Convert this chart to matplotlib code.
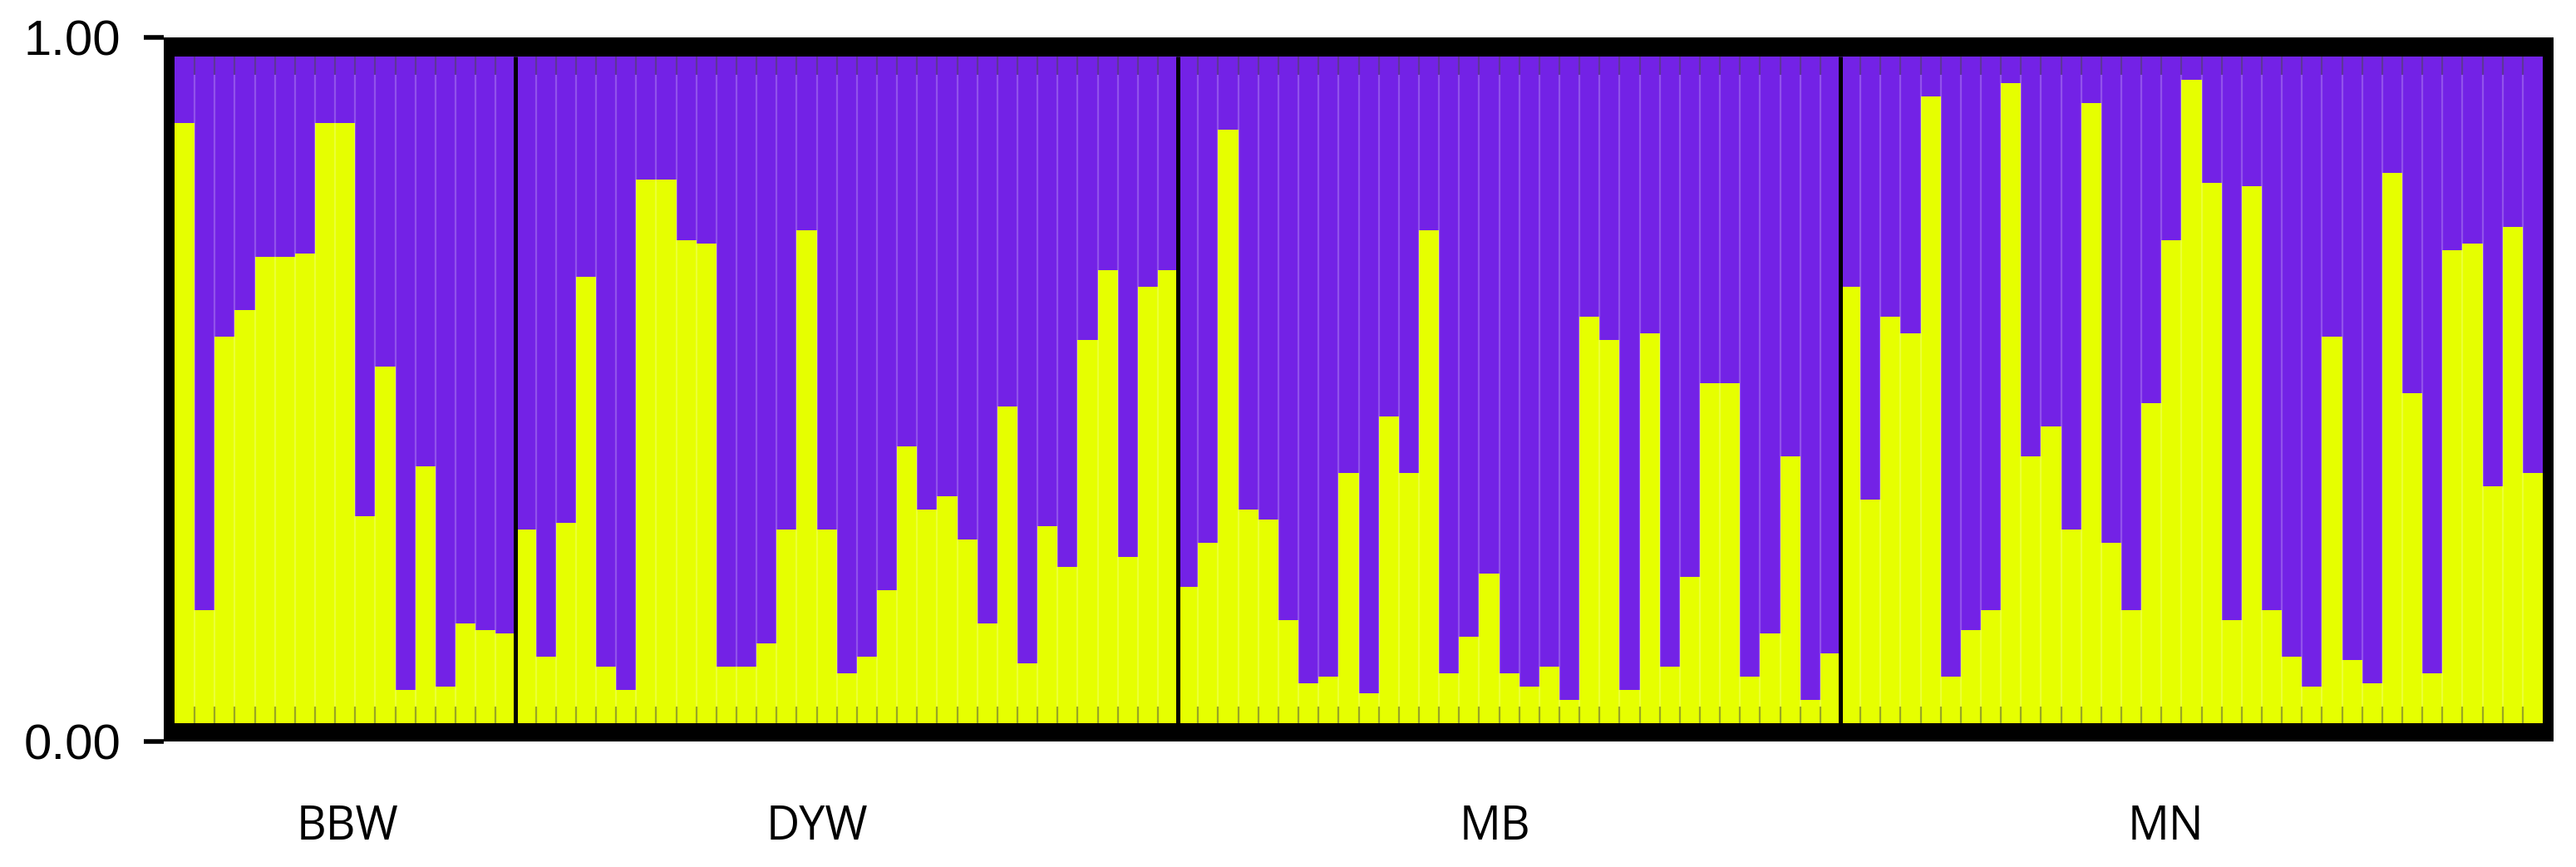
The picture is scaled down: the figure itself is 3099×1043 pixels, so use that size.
import numpy as np
import matplotlib
matplotlib.use('Agg')
import matplotlib.pyplot as plt

# membership coefficient for cluster 1 (yellow), cluster 2 (purple) = 1 - q
groups = ['BBW', 'DYW', 'MB', 'MN']
bbw = [0.90, 0.17, 0.58, 0.62, 0.70, 0.70, 0.705, 0.90, 0.90, 0.31, 0.535, 0.05,
       0.385, 0.055, 0.15, 0.14, 0.135]
dyw = [0.29, 0.10, 0.30, 0.67, 0.085, 0.05, 0.815, 0.815, 0.725, 0.72, 0.085, 0.085,
       0.12, 0.29, 0.74, 0.29, 0.075, 0.10, 0.20, 0.415, 0.32, 0.34, 0.275, 0.15,
       0.475, 0.09, 0.295, 0.235, 0.575, 0.68, 0.25, 0.655, 0.68]
mb = [0.205, 0.27, 0.89, 0.32, 0.305, 0.155, 0.06, 0.07, 0.375, 0.045, 0.46, 0.375,
      0.74, 0.075, 0.13, 0.225, 0.075, 0.055, 0.085, 0.035, 0.61, 0.575, 0.05, 0.585,
      0.085, 0.22, 0.51, 0.51, 0.07, 0.135, 0.40, 0.035, 0.105]
mn = [0.655, 0.335, 0.61, 0.585, 0.94, 0.07, 0.14, 0.17, 0.96, 0.40, 0.445, 0.29,
      0.93, 0.27, 0.17, 0.48, 0.725, 0.965, 0.81, 0.155, 0.805, 0.17, 0.10, 0.055,
      0.58, 0.095, 0.06, 0.825, 0.495, 0.075, 0.71, 0.72, 0.355, 0.745, 0.375]
# label positions (in individual index units), as placed in the original
label_pos = [8.1, 31.5, 65.3, 98.7]

YELLOW = '#E6FF00'
PURPLE = '#7322E6'

q = np.array(bbw + dyw + mb + mn)
sizes = [len(bbw), len(dyw), len(mb), len(mn)]
n = len(q)
x = np.arange(n)

W, H = 3099, 1043
fig = plt.figure(figsize=(W / 100, H / 100), dpi=100)
# axes = outer edge of black frame (inner plot area 222..3048 x 68..870 px)
left, right, top, bottom = 197, 3072, 45, 892
ax = fig.add_axes([left / W, 1 - bottom / H, (right - left) / W, (bottom - top) / H])
ax.set_facecolor('black')
for s in ax.spines.values():
    s.set_visible(False)

ax.bar(x, q, width=1.0, color=YELLOW, linewidth=0)
ax.bar(x, 1 - q, bottom=q, width=1.0, color=PURPLE, linewidth=0)

# faint separators between individuals, darker stubs at the ends
seps = x[:-1] + 0.5
ax.vlines(seps, 0, 1, color='white', alpha=0.22, linewidth=1.6)
ax.vlines(seps, 0.972, 1.0, color='black', alpha=0.35, linewidth=1.6)
ax.vlines(seps, 0.0, 0.025, color='black', alpha=0.35, linewidth=1.6)

# population dividers
bounds = np.cumsum(sizes)[:-1] - 0.5
ax.vlines(bounds, 0, 1, color='black', linewidth=3.6)

ylo, yhi = -22 / 802, 1 + 23 / 802
ax.set_xlim(-1.04, n - 1 + 1.04)
ax.set_ylim(ylo, yhi)
ax.set_xticks([])
ax.set_yticks([ylo, yhi])
ax.set_yticklabels(['0.00', '1.00'], fontsize=43, family='Liberation Sans')
ax.tick_params(axis='y', length=17, width=4, pad=20, color='black')

for g, p in zip(groups, label_pos):
    ax.text(p, -0.175, g, ha='center', va='baseline', fontsize=40,
            family='Open Sans')

fig.savefig('out.png', dpi=100)
